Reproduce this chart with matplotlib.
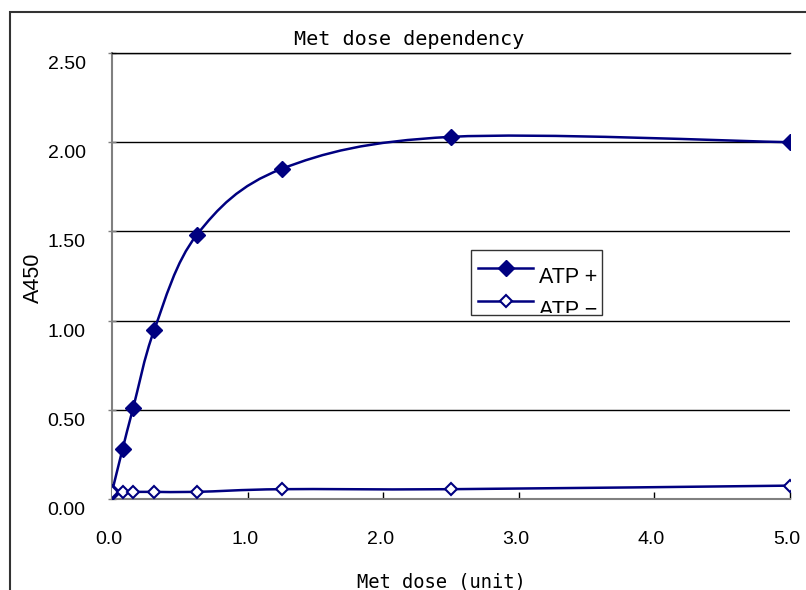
import numpy as np
import matplotlib
matplotlib.use('Agg')
import matplotlib.pyplot as plt
import matplotlib.transforms as mtransforms
from matplotlib.path import Path
from matplotlib.patches import PathPatch, Rectangle
from matplotlib.lines import Line2D

# 데이터
dose = [0.0, 0.078, 0.156, 0.3125, 0.625, 1.25, 2.5, 5.0]
atp_plus = [0.04, 0.28, 0.51, 0.95, 1.48, 1.85, 2.03, 2.00]
atp_minus = [0.04, 0.04, 0.04, 0.04, 0.04, 0.055, 0.055, 0.075]
series_labels = ['ATP +', 'ATP \u2212']
x_ticks = [0, 1, 2, 3, 4, 5]
y_ticks = [0.0, 0.5, 1.0, 1.5, 2.0, 2.5]

NAVY = '#000080'
W, H = 806, 590


def smooth_path(xs, ys):
    """엑셀 스타일 부드러운 선 (Catmull-Rom -> Bezier)"""
    pts = np.column_stack([xs, ys])
    ext = np.vstack([pts[0], pts, pts[-1]])
    verts = [pts[0]]
    codes = [Path.MOVETO]
    for i in range(len(pts) - 1):
        p0, p1, p2, p3 = ext[i], ext[i + 1], ext[i + 2], ext[i + 3]
        c1 = p1 + (p2 - p0) / 6.0
        c2 = p2 - (p3 - p1) / 6.0
        verts += [c1, c2, p2]
        codes += [Path.CURVE4] * 3
    return Path(verts, codes)


plt.rcParams['font.family'] = ['Liberation Sans', 'DejaVu Sans']

fig = plt.figure(figsize=(W / 100, H / 100), dpi=100)
ax = fig.add_axes([112 / W, 1 - 499 / H, (790 - 112) / W, (499 - 53) / H])

# 부드러운 선
for ys in (atp_plus, atp_minus):
    ax.add_patch(PathPatch(smooth_path(dose, ys), fill=False, edgecolor=NAVY,
                           linewidth=1.8, transform=ax.transData, zorder=3))

# 마커
ax.plot(dose, atp_plus, linestyle='none', marker='D', markersize=8,
        color=NAVY, zorder=4)
ax.plot(dose, atp_minus, linestyle='none', marker='D', markersize=6.5,
        markerfacecolor='white', markeredgecolor=NAVY, markeredgewidth=1.5, zorder=4)

ax.set_xlim(0, 5)
ax.set_ylim(0, 2.5)
ax.set_xticks(x_ticks)
ax.set_yticks(y_ticks)
ax.set_xticklabels([f'{v:.1f}' for v in x_ticks])
ax.set_yticklabels([f'{v:.2f}' for v in y_ticks])

ax.yaxis.grid(True, color='black', linewidth=1.0)
ax.set_axisbelow(True)
ax.spines['right'].set_visible(False)
ax.spines['top'].set_color('black')
ax.spines['top'].set_linewidth(1.0)
for s in ('left', 'bottom'):
    ax.spines[s].set_color('#808080')
    ax.spines[s].set_linewidth(1.5)

ax.tick_params(axis='x', direction='in', length=5, width=1, color='black',
               labelsize=14, pad=23)
ax.tick_params(axis='y', direction='inout', length=6, width=1, color='#808080',
               labelsize=14, pad=16)

# 엑셀처럼 눈금 라벨 살짝 이동
y_off = mtransforms.ScaledTranslation(0, -9.5 / 100, fig.dpi_scale_trans)
for lab in ax.get_yticklabels():
    lab.set_transform(lab.get_transform() + y_off)
x_off = mtransforms.ScaledTranslation(-3 / 100, 0, fig.dpi_scale_trans)
for lab in ax.get_xticklabels():
    lab.set_transform(lab.get_transform() + x_off)

# 제목, 축 이름
fig.text(409 / W, 1 - 45 / H, 'Met dose dependency', ha='center', va='baseline',
         family='DejaVu Sans Mono', fontsize=14.5)
fig.text(441 / W, 1 - 587 / H, 'Met dose (unit)', ha='center', va='baseline',
         family='DejaVu Sans Mono', fontsize=13.5)
fig.text(33 / W, 1 - 278 / H, 'A450', rotation=90, ha='center', va='center',
         fontsize=15.5)

# 범례 (아래쪽이 잘린 상태)
handles = [
    Line2D([], [], color=NAVY, linewidth=1.8, marker='D', markersize=8),
    Line2D([], [], color=NAVY, linewidth=1.8, marker='D', markersize=6.5,
           markerfacecolor='white', markeredgewidth=1.5),
]
leg = fig.legend(handles, series_labels, loc='upper left',
                 bbox_to_anchor=(478 / W, 1 - 260 / H), bbox_transform=fig.transFigure,
                 borderpad=0, borderaxespad=0, handlelength=2.56, handletextpad=0.28,
                 labelspacing=0.54, fontsize=15.5, frameon=False)
# 글자는 선보다 조금 아래에 있음
t_off = mtransforms.ScaledTranslation(0, -7.5 / 100, fig.dpi_scale_trans)
for t in leg.get_texts():
    t.set_transform(t.get_transform() + t_off)
clip = mtransforms.Bbox.from_extents(471, H - 313, 602, H - 250)
for art in leg.findobj():
    if art is not leg:
        art.set_clip_box(clip)
        art.set_clip_on(True)
fig.patches.append(Rectangle((471 / W, 1 - 315 / H), (602 - 471) / W, 65 / H,
                             transform=fig.transFigure, fill=False,
                             edgecolor='#333333', linewidth=1.0))

# 차트 영역 바깥 테두리
fig.patches.append(Rectangle((10 / W, -0.1), (809 - 10) / W, 1.1 - 12 / H,
                             transform=fig.transFigure, fill=False,
                             edgecolor='#333333', linewidth=1.5))

fig.savefig('out.png', dpi=100)
